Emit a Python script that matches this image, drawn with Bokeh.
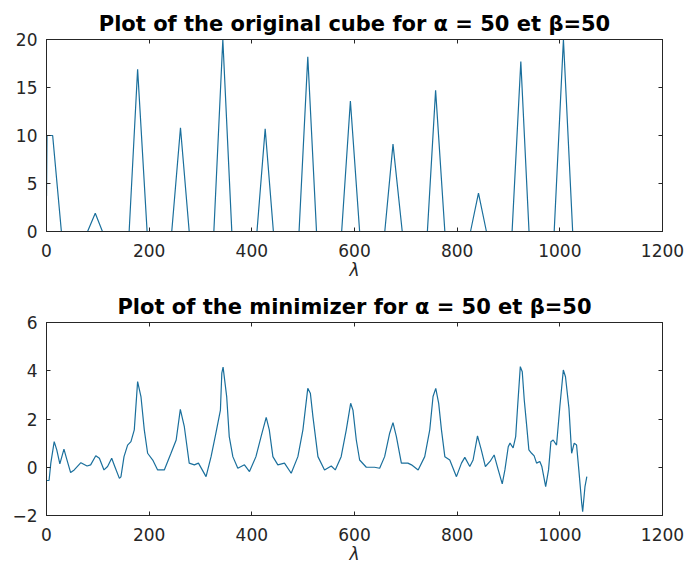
from bokeh.plotting import figure
from bokeh.models import Range1d, LinearAxis, FixedTicker
from bokeh.layouts import column
from bokeh.embed import file_html
from bokeh.resources import INLINE

# ---- data: original cube (top) ----
top_lambda = [0, 1, 12, 29, 80, 95, 109, 161, 177.5, 196, 244, 261, 278,
              326, 343.5, 361, 410, 426, 442, 492, 509, 526, 575, 592, 610,
              659, 675, 693, 742, 758, 776, 826, 841.5, 857, 907, 924, 940,
              989, 1007, 1025, 1049]
top_value = [3.7, 10, 10, 0, 0, 1.9, 0, 0, 16.9, 0, 0, 10.8, 0,
             0, 20, 0, 0, 10.7, 0, 0, 18.2, 0, 0, 13.6, 0,
             0, 9.1, 0, 0, 14.7, 0, 0, 4.0, 0, 0, 17.7, 0,
             0, 20, 0, 0]

# ---- data: minimizer (bottom) ----
bot_lambda = [0.6, 5, 8.4, 15, 20, 26, 34, 39, 47, 54, 67, 79, 86, 96, 103,
              112, 119, 127, 133, 142, 145, 151, 158, 164.5, 171, 177.5, 184,
              190.5, 197, 207, 216.5, 229.5, 242.5, 252.6, 260.7, 268.5, 278,
              288, 296, 310.8, 320.6, 330, 338.8, 341.5, 344, 351, 356, 363,
              372.7, 385.6, 395.4, 408, 418, 428, 434, 441, 450.7, 463.6,
              476.7, 489.7, 499.5, 509, 514, 519, 528.8, 541.6, 554.7, 562.5,
              574, 584, 592.5, 597, 603.5, 610, 623, 639, 649, 658.7, 668.5,
              675, 681.6, 691.3, 704, 711, 724, 736.8, 746.6, 753, 758.3, 764,
              769.4, 776, 785.6, 798.6, 808.4, 814.9, 824.6, 831, 839.6, 847,
              855, 864, 872, 880, 887.8, 893, 899.5, 903, 909, 914, 917.7, 923,
              926.8, 930.7, 935, 939.7, 945, 950, 954.7, 961, 965, 972.4, 978,
              982.6, 987, 993.6, 1000, 1006.8, 1011, 1017.8, 1023, 1028,
              1032.6, 1037, 1042.6, 1044.5, 1049, 1052.6]
bot_value = [-0.55, -0.55, 0.17, 1.06, 0.72, 0.14, 0.75, 0.37, -0.22, -0.11,
             0.19, 0.05, 0.1, 0.48, 0.37, -0.11, 0.03, 0.37, 0.03, -0.46, -0.4,
             0.44, 0.92, 1.06, 1.55, 3.55, 2.93, 1.55, 0.58, 0.3, -0.11, -0.11,
             0.58, 1.13, 2.4, 1.68, 0.17, 0.1, 0.17, -0.39, 0.44, 1.41, 2.37,
             3.9, 4.15, 2.93, 1.27, 0.44, -0.04, 0.1, -0.18, 0.44, 1.27, 2.07,
             1.55, 0.44, 0.1, 0.17, -0.25, 0.44, 1.55, 3.27, 3.07, 2.1, 0.44,
             -0.11, 0.05, -0.11, 0.44, 1.55, 2.65, 2.37, 1.13, 0.3, 0.0, 0.0,
             -0.04, 0.44, 1.41, 1.85, 1.27, 0.17, 0.17, 0.1, -0.11, 0.44, 1.55,
             2.93, 3.27, 2.65, 1.55, 0.44, 0.3, -0.39, 0.17, 0.41, 0.03, 0.3,
             1.3, 0.72, 0.03, 0.24, 0.51, -0.11, -0.69, -0.11, 0.85, 1.0, 0.8,
             1.27, 2.5, 4.17, 3.96, 2.79, 1.82, 0.72, 0.58, 0.47, 0.17, 0.24,
             0.03, -0.8, -0.11, 1.06, 1.13, 0.92, 2.51, 4.03, 3.75, 2.44, 0.58,
             1.0, 0.92, -0.11, -1.49, -1.84, -0.8, -0.39]

x_ticks = [0, 200, 400, 600, 800, 1000, 1200]
top_yticks = [0, 5, 10, 15, 20]
bot_yticks = [-2, 0, 2, 4, 6]

title_top = "Plot of the original cube for α = 50 et β=50"
title_bot = "Plot of the minimizer for α = 50 et β=50"

LINE = "#1a6f9c"
AX = "#262626"
FONT = "DejaVu Sans"


def make(title, xs, ys, yr, yticks, height, top_border, bottom_border):
    p = figure(width=689, height=height, output_backend="svg",
               toolbar_location=None, x_range=Range1d(0, 1200),
               y_range=Range1d(*yr), title=title,
               min_border_left=46, min_border_right=27,
               min_border_top=top_border, min_border_bottom=bottom_border)
    p.line(xs, ys, line_color=LINE, line_width=1.2)
    p.grid.visible = False
    p.outline_line_color = AX
    p.outline_line_width = 1
    p.background_fill_color = "white"
    p.border_fill_color = "white"
    p.title.text_font = FONT
    p.title.text_font_size = "21px"
    p.title.text_font_style = "bold"
    p.title.align = "center"
    p.title.text_color = "black"
    p.title.standoff = 7

    p.xaxis.ticker = FixedTicker(ticks=x_ticks)
    p.yaxis.ticker = FixedTicker(ticks=yticks)
    p.xaxis.axis_label = "λ"
    p.xaxis.axis_label_text_font_style = "italic"
    p.xaxis.axis_label_text_font = FONT
    p.xaxis.axis_label_text_font_size = "17px"
    p.xaxis.axis_label_text_color = AX
    p.xaxis.axis_label_standoff = 0
    for ax in (p.xaxis[0], p.yaxis[0]):
        ax.major_tick_in = 4
        ax.major_tick_out = 0
        ax.minor_tick_line_color = None
        ax.axis_line_color = AX
        ax.major_tick_line_color = AX
        ax.major_label_text_font = FONT
        ax.major_label_text_font_size = "17px"
        ax.major_label_text_color = AX
    p.xaxis.major_label_standoff = 12
    p.yaxis.major_label_standoff = 9

    top = LinearAxis(ticker=FixedTicker(ticks=x_ticks))
    right = LinearAxis(ticker=FixedTicker(ticks=yticks))
    for ax in (top, right):
        ax.major_tick_in = 4
        ax.major_tick_out = 0
        ax.minor_tick_line_color = None
        ax.axis_line_color = AX
        ax.major_tick_line_color = AX
        ax.major_label_text_font_size = "0px"
        ax.major_label_text_color = None
        ax.major_label_standoff = 0
    p.add_layout(top, "above")
    p.add_layout(right, "right")
    return p


p1 = make(title_top, top_lambda, top_value, (0, 20), top_yticks, 286, 39, 55)
p2 = make(title_bot, bot_lambda, bot_value, (-2, 6), bot_yticks, 285, 36, 56)

layout = column(p1, p2, spacing=0)
open("out.html", "w").write(file_html(layout, INLINE))
